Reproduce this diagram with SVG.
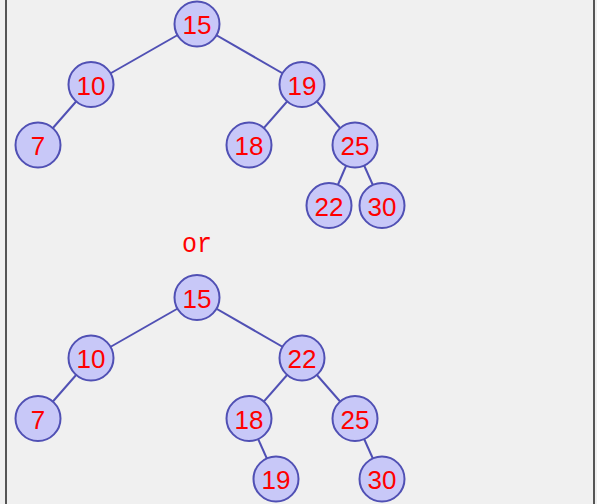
<svg xmlns="http://www.w3.org/2000/svg" width="597" height="504" viewBox="0 0 597 504">
  <style>
    .edge { stroke: #5050b4; stroke-width: 2; fill: none; }
    .node circle { fill: #c8c8f8; stroke: #5050b4; stroke-width: 2; }
    .node text { fill: #ff0000; font-family: "Liberation Sans", Arial, sans-serif; font-size: 26px; text-anchor: middle; }
    .label { fill: #ff0000; font-family: "Liberation Mono", "DejaVu Sans Mono", monospace; font-size: 27px; text-anchor: middle; }
    .frame { stroke: #555555; stroke-width: 2; }
  </style>
  <rect x="0" y="0" width="597" height="504" fill="#f0f0f0"/>
  <line class="frame" x1="6" y1="0" x2="6" y2="504"/>
  <line class="frame" x1="594" y1="0" x2="594" y2="504"/>

  <!-- edges -->
  <g id="connectors">
    <!-- first tree -->
    <line class="edge" x1="197" y1="24" x2="91" y2="84.5"/>
    <line class="edge" x1="197" y1="24" x2="302" y2="84.5"/>
    <line class="edge" x1="91" y1="84.5" x2="38" y2="145"/>
    <line class="edge" x1="302" y1="84.5" x2="249" y2="145"/>
    <line class="edge" x1="302" y1="84.5" x2="355" y2="145"/>
    <line class="edge" x1="355" y1="145" x2="329" y2="205.5"/>
    <line class="edge" x1="355" y1="145" x2="382" y2="205.5"/>
    <!-- second tree -->
    <line class="edge" x1="197" y1="297.5" x2="91" y2="358"/>
    <line class="edge" x1="197" y1="297.5" x2="302" y2="358"/>
    <line class="edge" x1="91" y1="358" x2="38" y2="418.5"/>
    <line class="edge" x1="302" y1="358" x2="249" y2="418.5"/>
    <line class="edge" x1="302" y1="358" x2="355" y2="418.5"/>
    <line class="edge" x1="249" y1="418.5" x2="276" y2="479"/>
    <line class="edge" x1="355" y1="418.5" x2="382" y2="479"/>
  </g>

  <!-- first tree nodes -->
  <g id="a15" class="node"><circle cx="197" cy="24" r="22.5"/><text x="197" y="34">15</text></g>
  <g id="a10" class="node"><circle cx="91" cy="84.5" r="22.5"/><text x="91" y="94.5">10</text></g>
  <g id="a19" class="node"><circle cx="302" cy="84.5" r="22.5"/><text x="302" y="94.5">19</text></g>
  <g id="a7" class="node"><circle cx="38" cy="145" r="22.5"/><text x="38" y="155">7</text></g>
  <g id="a18" class="node"><circle cx="249" cy="145" r="22.5"/><text x="249" y="155">18</text></g>
  <g id="a25" class="node"><circle cx="355" cy="145" r="22.5"/><text x="355" y="155">25</text></g>
  <g id="a22" class="node"><circle cx="329" cy="205.5" r="22.5"/><text x="329" y="215.5">22</text></g>
  <g id="a30" class="node"><circle cx="382" cy="205.5" r="22.5"/><text x="382" y="215.5">30</text></g>

  <text class="label" x="197" y="252" textLength="30" lengthAdjust="spacingAndGlyphs">or</text>

  <!-- second tree nodes -->
  <g id="b15" class="node"><circle cx="197" cy="297.5" r="22.5"/><text x="197" y="307.5">15</text></g>
  <g id="b10" class="node"><circle cx="91" cy="358" r="22.5"/><text x="91" y="368">10</text></g>
  <g id="b22" class="node"><circle cx="302" cy="358" r="22.5"/><text x="302" y="368">22</text></g>
  <g id="b7" class="node"><circle cx="38" cy="418.5" r="22.5"/><text x="38" y="428.5">7</text></g>
  <g id="b18" class="node"><circle cx="249" cy="418.5" r="22.5"/><text x="249" y="428.5">18</text></g>
  <g id="b25" class="node"><circle cx="355" cy="418.5" r="22.5"/><text x="355" y="428.5">25</text></g>
  <g id="b19" class="node"><circle cx="276" cy="479" r="22.5"/><text x="276" y="489">19</text></g>
  <g id="b30" class="node"><circle cx="382" cy="479" r="22.5"/><text x="382" y="489">30</text></g>
</svg>
